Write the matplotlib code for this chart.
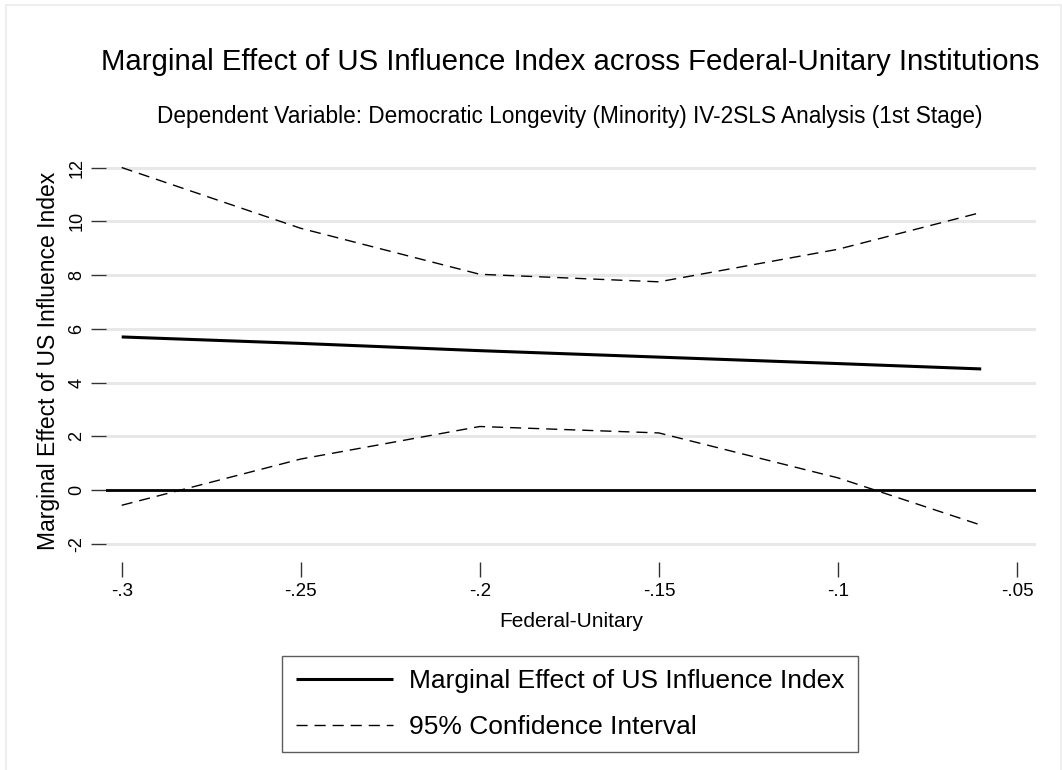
import matplotlib
matplotlib.use('Agg')
import matplotlib.pyplot as plt
from matplotlib.patches import Rectangle

# values
fed_unitary = [-0.30, -0.25, -0.20, -0.15, -0.10, -0.06]
marg_effect = [5.70, 5.46, 5.19, 4.95, 4.71, 4.51]
ci_upper = [12.00, 9.74, 8.03, 7.75, 8.96, 10.33]
ci_lower = [-0.56, 1.16, 2.37, 2.13, 0.46, -1.30]

x_ticks = [-0.30, -0.25, -0.20, -0.15, -0.10, -0.05]
x_labels = ['-.3', '-.25', '-.2', '-.15', '-.1', '-.05']
y_ticks = [-2, 0, 2, 4, 6, 8, 10, 12]

plt.rcParams['font.family'] = ['Liberation Sans', 'DejaVu Sans']

W, H = 1062, 770
fig = plt.figure(figsize=(W / 100, H / 100), dpi=100)
fig.patch.set_facecolor('white')

# faint outer frame of the graph region
fig.patches.append(Rectangle((6 / W, -0.01), (1061 - 6) / W, (H - 5) / H + 0.01,
                             transform=fig.transFigure, fill=False,
                             edgecolor='#ebebeb', linewidth=1.2))

# plot region (pixel box 106..1036 x 160..562)
ax = fig.add_axes([106 / W, 1 - 562 / H, (1036 - 106) / W, (562 - 160) / H])

ax.plot(fed_unitary, marg_effect, color='black', linewidth=2.2, solid_capstyle='butt')
ax.plot(fed_unitary, ci_upper, color='black', linewidth=1.0, dashes=(8, 5))
ax.plot(fed_unitary, ci_lower, color='black', linewidth=1.0, dashes=(8, 5))
ax.axhline(0, color='black', linewidth=2.0)

ax.set_xlim(-0.30438, -0.0447)
ax.set_ylim(-2.669, 12.28)

ax.set_yticks(y_ticks)
ax.set_yticklabels([str(v) for v in y_ticks], rotation=90, va='center', fontsize=13)
ax.set_xticks(x_ticks)
ax.set_xticklabels(x_labels, fontsize=13.5)
ax.tick_params(axis='y', length=11, width=1, pad=4, color='#333333')
ax.tick_params(axis='x', length=11, width=1, pad=4, color='#333333')

for s in ax.spines.values():
    s.set_visible(False)
ax.grid(axis='y', color='#e8e8e8', linewidth=2.2)
ax.set_axisbelow(True)

ax.set_xlabel('Federal-Unitary', fontsize=15, labelpad=9)
ax.set_ylabel('Marginal Effect of US Influence Index', fontsize=16.5, labelpad=6)

fig.text(570 / W, 1 - 62 / H, 'Marginal Effect of US Influence Index across Federal-Unitary Institutions',
         ha='center', va='center', fontsize=21.2)
fig.text(570 / W, 1 - 116 / H, 'Dependent Variable: Democratic Longevity (Minority) IV-2SLS Analysis (1st Stage)',
         ha='center', va='center', fontsize=16.3)

# legend
leg_handles = [ax.lines[0], ax.lines[1]]
leg = fig.legend(leg_handles, ['Marginal Effect of US Influence Index', '95% Confidence Interval'],
                 loc='center', bbox_to_anchor=(570 / W, 1 - 704 / H), fontsize=19,
                 frameon=True, fancybox=False, edgecolor='#333333', handlelength=3.7,
                 handletextpad=0.6, borderpad=0.5, labelspacing=0.85, borderaxespad=0)
leg.get_frame().set_linewidth(1.0)

fig.savefig('out.png', dpi=100)
